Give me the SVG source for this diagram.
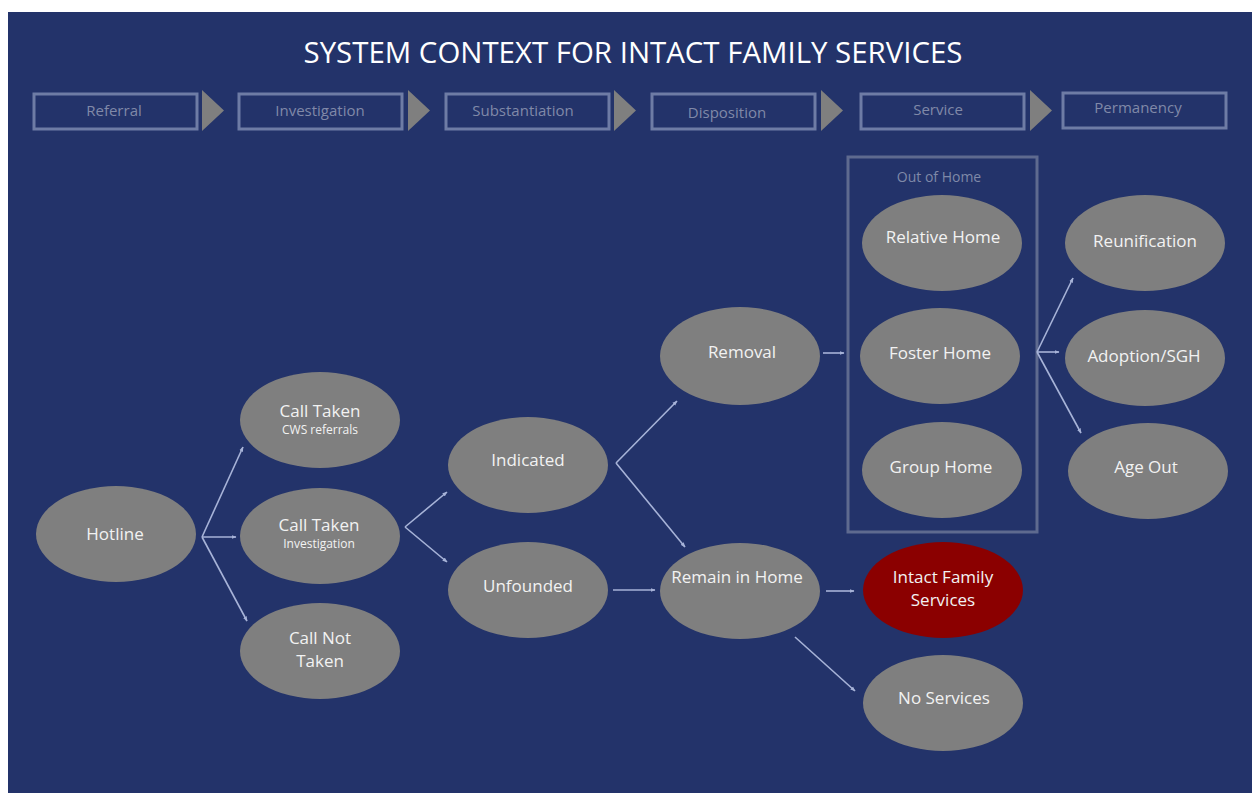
<svg xmlns="http://www.w3.org/2000/svg" width="1252" height="793" viewBox="0 0 1252 793">
<style>
.bg{fill:#23336a}
.phase{fill:none;stroke:#6e7ca5;stroke-width:3}
.tri{fill:#7f7f7f}
.ptxt{font-family:"Open Sans","Liberation Sans",sans-serif;font-size:15px;fill:#8089a8;text-anchor:middle}
.otxt{font-family:"Open Sans","Liberation Sans",sans-serif;font-size:14px;fill:#7f89a8;text-anchor:middle}
.node{fill:#7f7f7f}
.red{fill:#8b0000}
.t{font-family:"Open Sans","Liberation Sans",sans-serif;font-size:17px;fill:#f2f2f2;text-anchor:middle}
.s{font-family:"Open Sans","Liberation Sans",sans-serif;font-size:12px;fill:#f2f2f2;text-anchor:middle}
.title{font-family:"Open Sans","Liberation Sans",sans-serif;font-size:30px;fill:#ffffff;text-anchor:middle}
.conn path{fill:none;stroke:#a7b3d8;stroke-width:1.6}
</style>
<defs>
<marker id="ah" viewBox="0 0 10 10" refX="9" refY="5" markerWidth="5" markerHeight="5" orient="auto" markerUnits="userSpaceOnUse">
<path d="M0,1 L10,5 L0,9 Z" fill="#a7b3d8"/>
</marker>
</defs>
<rect x="0" y="0" width="1252" height="793" fill="#ffffff"/>
<rect class="bg" x="8" y="12" width="1244" height="781"/>
<text class="title" x="633" y="63" textLength="659" lengthAdjust="spacingAndGlyphs">SYSTEM CONTEXT FOR INTACT FAMILY SERVICES</text>

<g id="phases">
<rect class="phase" x="34" y="94" width="163" height="35"/>
<polygon class="tri" points="202,90 224,110.5 202,131"/>
<text class="ptxt" x="114" y="116">Referral</text>
<rect class="phase" x="239" y="94" width="163" height="35"/>
<polygon class="tri" points="408,90 430,110.5 408,131"/>
<text class="ptxt" x="320" y="116">Investigation</text>
<rect class="phase" x="446" y="94" width="163" height="35"/>
<polygon class="tri" points="614,90 636,110.5 614,131"/>
<text class="ptxt" x="523" y="116">Substantiation</text>
<rect class="phase" x="652" y="94" width="163" height="35"/>
<polygon class="tri" points="821,90 843,110.5 821,131"/>
<text class="ptxt" x="727" y="118">Disposition</text>
<rect class="phase" x="861" y="94" width="163" height="35"/>
<polygon class="tri" points="1030,90 1052,110.5 1030,131"/>
<text class="ptxt" x="938" y="115">Service</text>
<rect class="phase" x="1063" y="93" width="163" height="35"/>
<text class="ptxt" x="1138" y="113">Permanency</text>
</g>

<g id="out-of-home">
<rect x="848" y="157" width="189" height="375" fill="none" stroke="#5e6a8f" stroke-width="3"/>
<text class="otxt" x="939" y="182">Out of Home</text>
</g>

<g class="conn" id="connectors">
<path d="M202,537 L243,447" marker-end="url(#ah)"/>
<path d="M202,537 L236,537" marker-end="url(#ah)"/>
<path d="M202,537 L247,621" marker-end="url(#ah)"/>
<path d="M405,527 L447,492" marker-end="url(#ah)"/>
<path d="M405,527 L447,562" marker-end="url(#ah)"/>
<path d="M616,463 L677,401" marker-end="url(#ah)"/>
<path d="M616,463 L685,547" marker-end="url(#ah)"/>
<path d="M613,590 L655,590" marker-end="url(#ah)"/>
<path d="M823,353 L844,353" marker-end="url(#ah)"/>
<path d="M826,591 L854,591" marker-end="url(#ah)"/>
<path d="M795,637 L855,691" marker-end="url(#ah)"/>
<path d="M1037,352 L1073,278" marker-end="url(#ah)"/>
<path d="M1037,352 L1059,352" marker-end="url(#ah)"/>
<path d="M1037,352 L1081,433" marker-end="url(#ah)"/>
</g>

<g id="hotline"><ellipse class="node" cx="116" cy="534" rx="80" ry="48"/><text class="t" x="115" y="540">Hotline</text></g>
<g id="call-taken-cws"><ellipse class="node" cx="320" cy="420" rx="80" ry="48"/><text class="t" x="320" y="417">Call Taken</text><text class="s" x="320" y="434">CWS referrals</text></g>
<g id="call-taken-inv"><ellipse class="node" cx="320" cy="536" rx="80" ry="48"/><text class="t" x="319" y="531">Call Taken</text><text class="s" x="319" y="548">Investigation</text></g>
<g id="call-not-taken"><ellipse class="node" cx="320" cy="651" rx="80" ry="48"/><text class="t" x="320" y="644">Call Not</text><text class="t" x="320" y="667">Taken</text></g>
<g id="indicated"><ellipse class="node" cx="528" cy="465" rx="80" ry="48"/><text class="t" x="528" y="466">Indicated</text></g>
<g id="unfounded"><ellipse class="node" cx="528" cy="590" rx="80" ry="48"/><text class="t" x="528" y="592">Unfounded</text></g>
<g id="removal"><ellipse class="node" cx="740" cy="356" rx="80" ry="49"/><text class="t" x="742" y="358">Removal</text></g>
<g id="remain-in-home"><ellipse class="node" cx="740" cy="591" rx="80" ry="48"/><text class="t" x="737" y="583">Remain in Home</text></g>
<g id="relative-home"><ellipse class="node" cx="942" cy="243" rx="80" ry="48"/><text class="t" x="943" y="243">Relative Home</text></g>
<g id="foster-home"><ellipse class="node" cx="940" cy="356" rx="80" ry="48"/><text class="t" x="940" y="359">Foster Home</text></g>
<g id="group-home"><ellipse class="node" cx="942" cy="470" rx="80" ry="48"/><text class="t" x="941" y="473">Group Home</text></g>
<g id="reunification"><ellipse class="node" cx="1145" cy="243" rx="80" ry="48"/><text class="t" x="1145" y="247">Reunification</text></g>
<g id="adoption"><ellipse class="node" cx="1145" cy="358" rx="80" ry="48"/><text class="t" x="1144" y="362">Adoption/SGH</text></g>
<g id="age-out"><ellipse class="node" cx="1148" cy="471" rx="80" ry="48"/><text class="t" x="1146" y="473">Age Out</text></g>
<g id="intact-family-services"><ellipse class="red" cx="943" cy="590" rx="80" ry="48"/><text class="t" x="943" y="583">Intact Family</text><text class="t" x="943" y="606">Services</text></g>
<g id="no-services"><ellipse class="node" cx="943" cy="703" rx="80" ry="48"/><text class="t" x="944" y="704">No Services</text></g>
</svg>
